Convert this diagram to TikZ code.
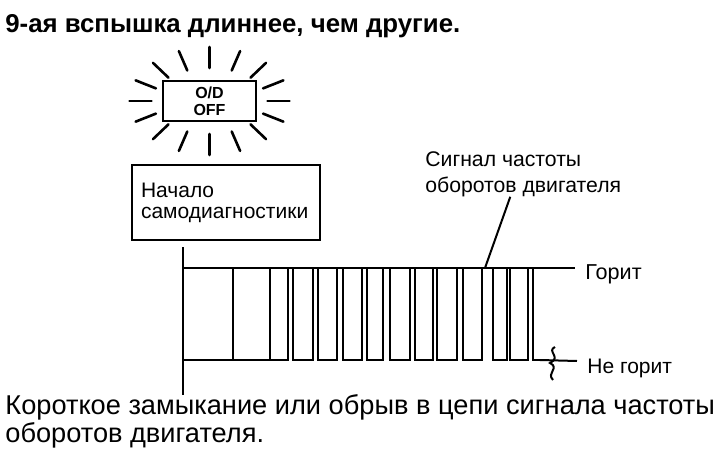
\documentclass[tikz,border=0pt]{standalone}
\usepackage{fontspec}
\setmainfont{Liberation Sans}
\usetikzlibrary{positioning}
\tikzstyle{caption} = [inner sep=0pt, anchor=base west, align=left]
\tikzstyle{ray} = [line width=1.3pt, line cap=round]
\tikzstyle{lamp} = [rectangle, draw, line width=1pt, minimum width=46.5pt, minimum height=20pt, inner sep=0pt, align=center, font=\bfseries\fontsize{8}{8.5}\selectfont]
\tikzstyle{startbox} = [rectangle, draw, line width=1.3pt, minimum width=94pt, minimum height=37.5pt, inner xsep=4.5pt, text width=85pt, align=left, font=\fontsize{10.5}{10.5}\selectfont]
\tikzstyle{wave} = [line width=1.4pt, line join=miter]
\tikzstyle{level} = [line width=1pt]

\begin{document}
\begin{tikzpicture}[x=0.5pt, y=-0.5pt]
\useasboundingbox (0,0) rectangle (720,461);

% Texts (multi-line nodes sit on their last baseline)
\node[caption, font=\bfseries\fontsize{12.9}{14}\selectfont] (title) at (5,32) {9-ая вспышка длиннее, чем другие.};
\node[caption, font=\fontsize{13.6}{12.5}\selectfont] (result) at (5,442) {Короткое замыкание или обрыв в цепи сигнала частоты\\оборотов двигателя.};

% Flashing lamp
\node (lamp) [lamp] at (209.5,101) {O/D\\OFF};
\begin{scope}[shift={(lamp.center)}]
\foreach \a in {0,22.5,...,337.5}
  \draw[ray] (\a:58 and 33) -- (\a:80 and 54);
\end{scope}
\node (start) [startbox] at (226,202.5) {Начало\\самодиагностики};

% Signal
\coordinate (axtop) at (183,247);
\coordinate (axbot) at (183,395);
\coordinate (highend) at (575,268);
\draw[level] (axtop) -- (axbot);
\draw[level] (axtop |- highend) -- (highend);
\node[caption, font=\fontsize{10.8}{12}\selectfont, right=5pt of highend, anchor=base west, yshift=-5.5pt] (lit) {Горит};
\draw[wave] (axtop |- 0,360) \foreach \a/\b in {233/233, 270/270, 288/293, 313/318, 337/343, 362/367, 383/390, 410/415, 433/437, 457/463, 482/493, 507/510, 528/533} { -- (\a,360) -- (\a,268) -- (\b,268) -- (\b,360) } -- (540,360) coordinate (lowend);
\coordinate (unlitend) at (577,361);
\draw[level] (lowend) -- (unlitend);
\draw[level] (555,347) .. controls (546,351) and (562,357) .. (550,363) .. controls (560,368) and (546,373) .. (553,380);
\node[caption, font=\fontsize{10.5}{12}\selectfont, right=5pt of unlitend, anchor=base west, yshift=-6pt] (unlit) {Не горит};

% Signal label
\node[caption, font=\fontsize{10.6}{13}\selectfont] (sig) at (425,192) {Сигнал частоты\\оборотов двигателя};
\coordinate (sigpt) at (485,268);
\draw[level] ([xshift=-6.5pt]sig.south) -- (sigpt);
\end{tikzpicture}
\end{document}
